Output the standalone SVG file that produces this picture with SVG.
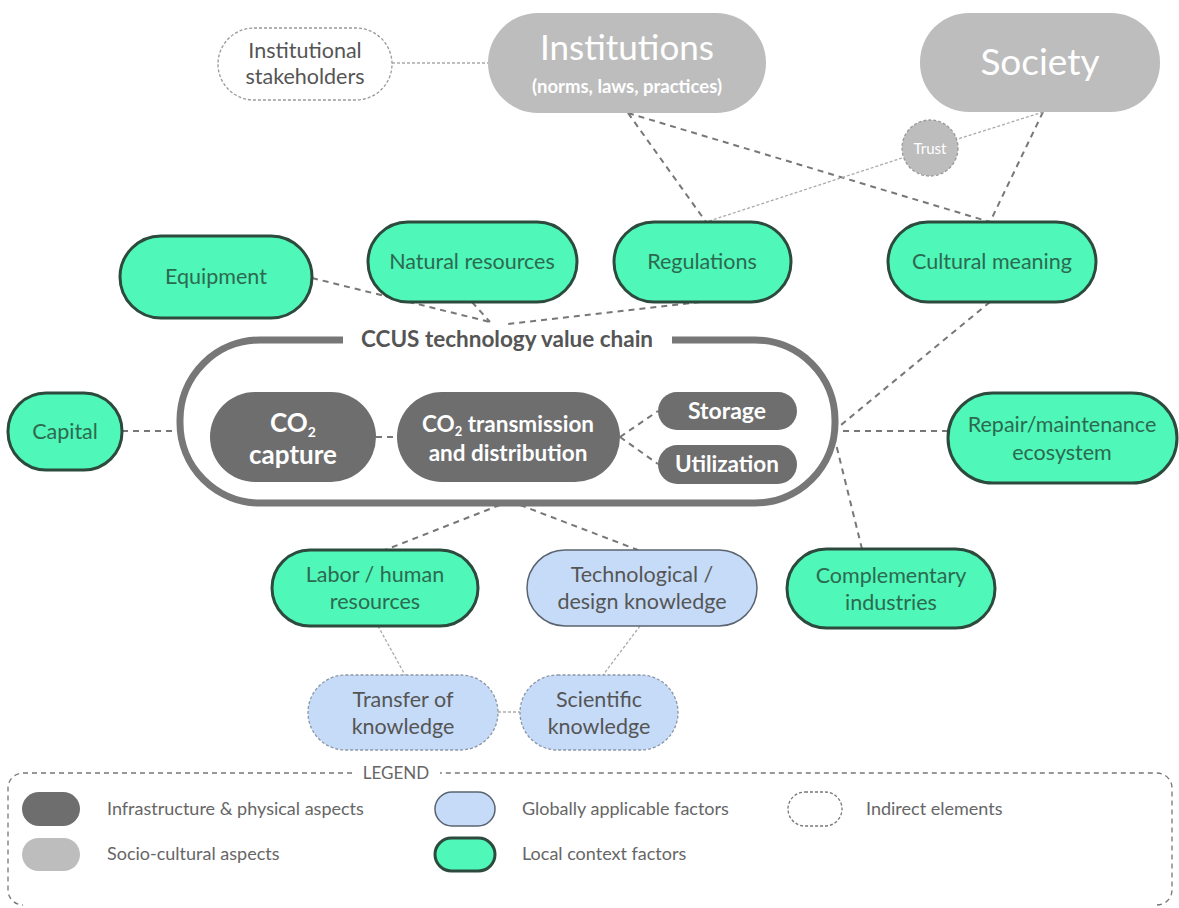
<svg xmlns="http://www.w3.org/2000/svg" width="1179" height="908" viewBox="0 0 1179 908">
<style>
text{font-family:Lato,"Open Sans","Liberation Sans",sans-serif;text-anchor:middle}
.green{fill:#4ff7b8;stroke:#2d4a3e;stroke-width:3}
.blue{fill:#c6dbf7;stroke:#5a6470;stroke-width:1.5}
.bluei{fill:#c6dbf7;stroke:#8a96a6;stroke-width:1.3;stroke-dasharray:3 2}
.soc{fill:#bdbdbd}
.infra{fill:#6e6e6e}
.ind{fill:#fff;stroke:#999;stroke-width:1.3;stroke-dasharray:3 2}
.gt{fill:#2c6a50;font-size:21.5px}
.bt{fill:#555;font-size:21.5px}
.wt{fill:#fff;font-weight:bold}
.dash{fill:none;stroke:#777;stroke-width:2;stroke-dasharray:6 5}
.dot{fill:none;stroke:#aaa;stroke-width:1.3;stroke-dasharray:3 2}
.lt{fill:#666;font-size:18px;text-anchor:start}
</style>
<g id="connectors">
<path class="dot" d="M392,63 L488,63"/>
<path class="dash" d="M628,113 L706,222"/>
<path class="dash" d="M628,113 L990,222"/>
<path class="dash" d="M1043,112 L990,222"/>
<path class="dot" d="M1043,112 L958,139"/>
<path class="dot" d="M902,158 L706,222"/>
<path class="dash" d="M312,278 L490,322"/>
<path class="dash" d="M472,302 L490,322"/>
<path class="dash" d="M700,302 L508,324"/>
<path class="dash" d="M990,302 L835,430"/>
<path class="dash" d="M122,431 L180,431"/>
<path class="dash" d="M948,431 L835,431"/>
<path class="dash" d="M862,549 L835,440"/>
<path class="dash" d="M500,505 L385,550"/>
<path class="dash" d="M520,505 L638,550"/>
<path class="dash" d="M376,437 L397,437"/>
<path class="dash" d="M620,437 L658,411"/>
<path class="dash" d="M620,437 L658,464"/>
<path class="dot" d="M378,626 L405,675"/>
<path class="dot" d="M640,626 L603,675"/>
<path class="dot" d="M498,712 L520,712"/>
</g>
<g id="institutional-stakeholders">
<rect class="ind" x="218" y="28" width="174" height="72" rx="36"/>
<text class="bt" x="305" y="58">Institutional</text>
<text class="bt" x="305" y="84">stakeholders</text>
</g>
<g id="institutions">
<rect class="soc" x="488" y="13" width="278" height="100" rx="50"/>
<text x="627" y="60" fill="#fff" font-size="35">Institutions</text>
<text class="wt" x="627" y="93" font-size="18.5">(norms, laws, practices)</text>
</g>
<g id="society">
<rect class="soc" x="920" y="13" width="240" height="99" rx="49"/>
<text x="1040" y="75" fill="#fff" font-size="37">Society</text>
</g>
<g id="trust">
<circle cx="930" cy="148" r="28" fill="#bdbdbd" stroke="#999" stroke-width="1.3" stroke-dasharray="3 2"/>
<text x="930" y="154" fill="#fff" font-size="15">Trust</text>
</g>
<g id="equipment">
<rect class="green" x="120" y="236" width="192" height="82" rx="41"/>
<text class="gt" x="216" y="284">Equipment</text>
</g>
<g id="natural-resources">
<rect class="green" x="368" y="222" width="209" height="80" rx="40"/>
<text class="gt" x="472" y="269">Natural resources</text>
</g>
<g id="regulations">
<rect class="green" x="614" y="222" width="177" height="80" rx="40"/>
<text class="gt" x="702" y="269">Regulations</text>
</g>
<g id="cultural-meaning">
<rect class="green" x="888" y="222" width="208" height="80" rx="40"/>
<text class="gt" x="992" y="269">Cultural meaning</text>
</g>
<g id="value-chain">
<path d="M343,340 L260,340 A80,80 0 0 0 180,420 L180,423 A80,80 0 0 0 260,503 L755,503 A80,80 0 0 0 835,423 L835,420 A80,80 0 0 0 755,340 L672,340" fill="none" stroke="#777" stroke-width="7"/>
<text x="507" y="347" fill="#555" font-size="22.5" font-weight="bold">CCUS technology value chain</text>
</g>
<g id="co2-capture">
<rect class="infra" x="210" y="392" width="166" height="90" rx="45"/>
<text class="wt" x="293" y="432" font-size="26">CO<tspan font-size="14" dy="5">2</tspan></text>
<text class="wt" x="293" y="464" font-size="26">capture</text>
</g>
<g id="co2-transmission">
<rect class="infra" x="397" y="392" width="223" height="90" rx="45"/>
<text class="wt" x="508" y="432" font-size="22.5">CO<tspan font-size="13" dy="4">2</tspan><tspan dy="-4"> transmission</tspan></text>
<text class="wt" x="508" y="461" font-size="22.5">and distribution</text>
</g>
<g id="storage">
<rect class="infra" x="658" y="392" width="139" height="38" rx="19"/>
<text class="wt" x="727" y="419" font-size="23">Storage</text>
</g>
<g id="utilization">
<rect class="infra" x="658" y="445" width="139" height="39" rx="19.5"/>
<text class="wt" x="727" y="472" font-size="22.5">Utilization</text>
</g>
<g id="capital">
<rect class="green" x="8" y="393" width="114" height="77" rx="38"/>
<text class="gt" x="65" y="439">Capital</text>
</g>
<g id="repair">
<rect class="green" x="948" y="393" width="229" height="90" rx="45"/>
<text class="gt" x="1062" y="432">Repair/maintenance</text>
<text class="gt" x="1062" y="460">ecosystem</text>
</g>
<g id="complementary">
<rect class="green" x="787" y="549" width="208" height="79" rx="39.5"/>
<text class="gt" x="891" y="583">Complementary</text>
<text class="gt" x="891" y="610">industries</text>
</g>
<g id="labor">
<rect class="green" x="272" y="550" width="206" height="76" rx="38"/>
<text class="gt" x="375" y="582">Labor / human</text>
<text class="gt" x="375" y="609">resources</text>
</g>
<g id="technological">
<rect class="blue" x="527" y="550" width="230" height="76" rx="38"/>
<text class="bt" x="642" y="582">Technological /</text>
<text class="bt" x="642" y="609">design knowledge</text>
</g>
<g id="transfer">
<rect class="bluei" x="308" y="675" width="190" height="75" rx="37.5"/>
<text class="bt" x="403" y="707">Transfer of</text>
<text class="bt" x="403" y="734">knowledge</text>
</g>
<g id="scientific">
<rect class="bluei" x="520" y="675" width="158" height="75" rx="37.5"/>
<text class="bt" x="599" y="707">Scientific</text>
<text class="bt" x="599" y="734">knowledge</text>
</g>
<g id="legend">
<path d="M352,773 L23,773 A15,15 0 0 0 8,788 L8,890 A15,15 0 0 0 23,905 M1157,905 A15,15 0 0 0 1172,890 L1172,788 A15,15 0 0 0 1157,773 L440,773" fill="none" stroke="#777" stroke-width="1.3" stroke-dasharray="5 4"/>
<text x="396" y="779" fill="#666" font-size="17">LEGEND</text>
<rect class="infra" x="22" y="792" width="58" height="34" rx="17"/>
<text class="lt" x="107" y="815">Infrastructure &amp; physical aspects</text>
<rect class="soc" x="22" y="838" width="58" height="33" rx="16.5"/>
<text class="lt" x="107" y="860">Socio-cultural aspects</text>
<rect class="blue" x="435" y="792" width="60" height="34" rx="17"/>
<text class="lt" x="522" y="815">Globally applicable factors</text>
<rect class="green" x="435" y="838" width="60" height="33" rx="16.5"/>
<text class="lt" x="522" y="860">Local context factors</text>
<rect class="ind" x="788" y="792" width="54" height="34" rx="17" style="stroke:#777"/>
<text class="lt" x="866" y="815">Indirect elements</text>
</g>
</svg>
